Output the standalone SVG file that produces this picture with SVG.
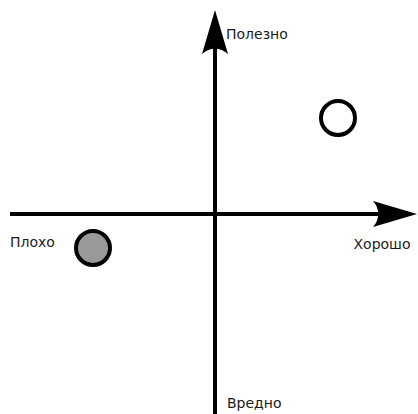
<svg xmlns="http://www.w3.org/2000/svg" width="418" height="414" viewBox="0 0 418 414">
<style>
.axis{stroke:#000;stroke-width:4;fill:none}
.head{fill:#000;stroke:none}
.lbl{font-family:"DejaVu Sans",sans-serif;font-size:14px;fill:#1a1a1a}
.pt{stroke:#000;stroke-width:4}
</style>
<defs>
<path id="ah" d="M 0,0 L -44,-13 C -37,-5 -37,5 -44,13 Z"/>
</defs>
<g id="connectors">
<line class="axis" x1="10" y1="214" x2="385" y2="214"/>
<line class="axis" x1="215" y1="414" x2="215" y2="40"/>
<use href="#ah" class="head" transform="translate(417,214)"/>
<use href="#ah" class="head" transform="translate(215,10) rotate(-90)"/>
</g>
<g id="good"><circle class="pt" cx="338" cy="118" r="17" fill="#fff"/></g>
<g id="bad"><circle class="pt" cx="93" cy="248" r="17" fill="#999"/></g>
<g id="label-top"><text class="lbl" x="226" y="39">Полезно</text></g>
<g id="label-right"><text class="lbl" x="353.5" y="249">Хорошо</text></g>
<g id="label-left"><text class="lbl" x="10" y="247">Плохо</text></g>
<g id="label-bottom"><text class="lbl" x="227" y="408">Вредно</text></g>
</svg>
